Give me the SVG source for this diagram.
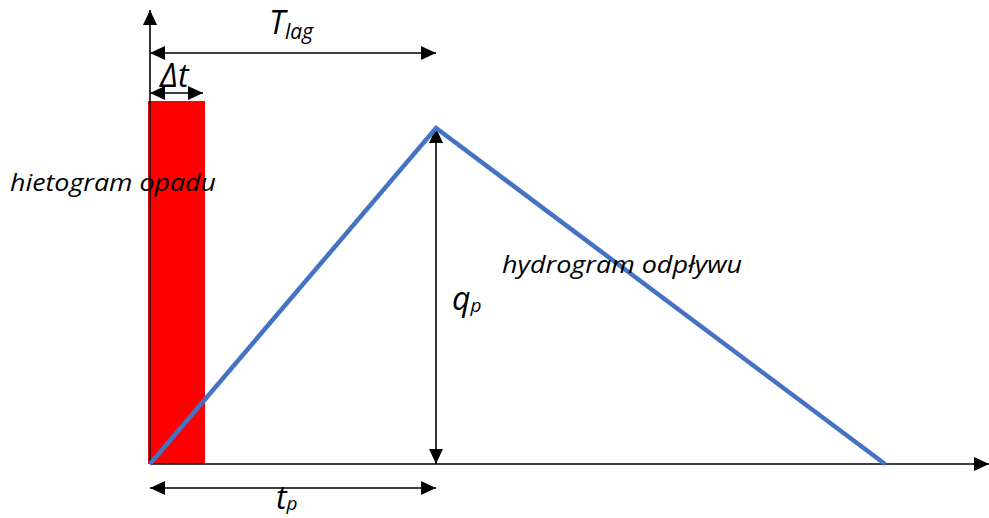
<svg xmlns="http://www.w3.org/2000/svg" width="989" height="518" viewBox="0 0 989 518">
<defs>
<marker id="ah" markerUnits="userSpaceOnUse" markerWidth="16" markerHeight="14" refX="15" refY="7" orient="auto-start-reverse" viewBox="0 0 16 14">
<path d="M0,0 L15,7 L0,14 z" fill="#000"/>
</marker>
<style>
.ax{stroke:#000;stroke-width:1.6;fill:none}
.dim{stroke:#000;stroke-width:1.6;fill:none;marker-start:url(#ah);marker-end:url(#ah)}
.lbl{font-family:"Open Sans","Liberation Sans",sans-serif;font-style:italic;fill:#000}
</style>
</defs>
<rect width="989" height="518" fill="#fff"/>
<g id="hietogram">
<rect x="148" y="101" width="57" height="363" fill="#ff0000"/>
</g>
<g id="connectors">
<line class="ax" x1="150" y1="464" x2="150" y2="10" marker-end="url(#ah)"/>
<line class="ax" x1="150" y1="464" x2="989" y2="464" marker-end="url(#ah)"/>
<line class="dim" x1="150" y1="53" x2="436" y2="53"/>
<line class="dim" x1="150" y1="93" x2="203" y2="93"/>
<line class="dim" x1="436" y1="128" x2="436" y2="464"/>
<line class="dim" x1="150" y1="488" x2="436" y2="488"/>
</g>
<g id="hydrograph">
<polyline points="150,464 436,128 885,464" fill="none" stroke="#4472C4" stroke-width="4.5" stroke-linejoin="miter"/>
</g>
<g id="labels">
<text class="lbl" x="269" y="34" font-size="32">T<tspan font-size="21" dy="5">lag</tspan></text>
<text class="lbl" x="160" y="87" font-size="32">Δt</text>
<text class="lbl" x="10" y="191" font-size="24" textLength="206" lengthAdjust="spacingAndGlyphs">hietogram opadu</text>
<text class="lbl" x="502" y="273" font-size="24" textLength="240" lengthAdjust="spacingAndGlyphs">hydrogram odpływu</text>
<text class="lbl" x="452" y="310" font-size="32">q<tspan font-size="19" dy="2">p</tspan></text>
<text class="lbl" x="276" y="509" font-size="32">t<tspan font-size="19" dy="1">p</tspan></text>
</g>
</svg>
